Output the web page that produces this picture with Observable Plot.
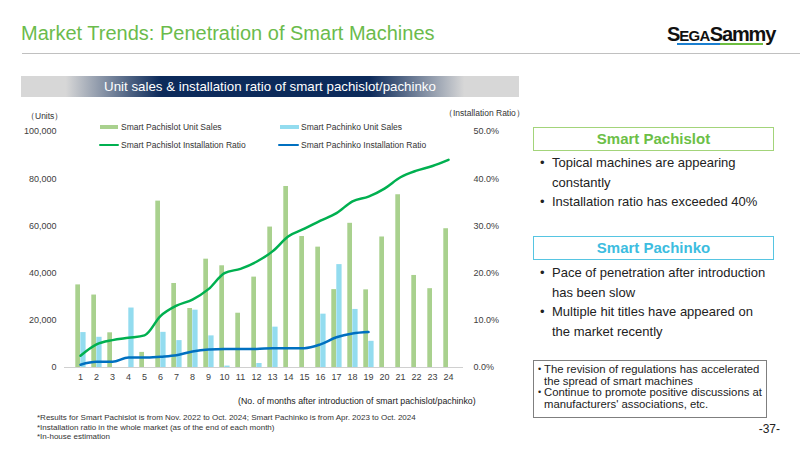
<!DOCTYPE html>
<html>
<head>
<meta charset="utf-8">
<script src="https://cdn.jsdelivr.net/npm/d3@7"></script>
<script src="https://cdn.jsdelivr.net/npm/@observablehq/plot@0.6"></script>
<style>
  html, body { margin: 0; padding: 0; background: #fff; }
  body { width: 800px; height: 450px; position: relative; overflow: hidden;
         font-family: "Liberation Sans", Arial, sans-serif; color: #222; }
  .abs { position: absolute; white-space: nowrap; }
  #title { left: 21px; top: 21px; font-size: 20px; color: #6bbb4c; line-height: 24px; }
  #rule { left: 22px; top: 53px; width: 778px; height: 0; border-top: 1.5px solid #c0c0c0; }
  #logo { left: 667px; top: 24px; font-size: 20px; font-weight: 900; color: #111; letter-spacing: -1.1px; line-height: 20px; }
  #logo .sm { font-size: 15px; letter-spacing: -0.7px; }
  .logobar { position: absolute; top: 43px; height: 2px; }
  #banner { left: 21px; top: 76px; width: 498px; height: 21px; color: #fff; font-size: 13.3px; line-height: 21px; text-align: center;
            background: linear-gradient(to right, #d7d7d7 0%, #d7d7d7 9%, #0c2a5a 28%, #0c2a5a 70%, #d7d7d7 89%, #d7d7d7 100%); }
  #chart { left: 0; top: 105px; }
  .unit { font-size: 8.5px; color: #333; }
  .leg { font-size: 8.5px; color: #333; line-height: 10px; }
  .sw { position: absolute; }
  .head { position: absolute; left: 533px; width: 241px; height: 24px; line-height: 21px; text-align: center;
          font-weight: bold; font-size: 15px; box-sizing: border-box; }
  .bul { position: absolute; left: 540px; font-size: 13px; line-height: 19.5px; color: #222; }
  .bul .it { position: relative; padding-left: 12px; white-space: nowrap; }
  .bul .it::before { content: "\2022"; position: absolute; left: 0; top: 0; }
  #note { left: 533px; top: 360px; width: 234px; height: 58px; border: 1px solid #7f7f7f; box-sizing: border-box;
          font-size: 11.3px; line-height: 11.7px; color: #222; padding: 3px 0 0 4px; }
  #note .it { position: relative; padding-left: 6px; white-space: nowrap; }
  #note .it::before { content: "\2022"; position: absolute; left: 0; top: 0; font-size: 9px; }
  .foot { font-size: 8px; color: #333; line-height: 10px; }
</style>
</head>
<body>
<div id="title" class="abs">Market Trends: Penetration of Smart Machines</div>
<div id="rule" class="abs"></div>
<div id="logo" class="abs">S<span class="sm">EGA</span>Sammy</div>
<div class="logobar" style="left:677px;width:43px;background:#1b7fd0;"></div>
<div class="logobar" style="left:720px;width:43px;background:#6cbd3f;"></div>
<div id="banner" class="abs">Unit sales &amp; installation ratio of smart pachislot/pachinko</div>

<div id="chart" class="abs"></div>

<div class="abs unit" style="left:26px;top:111px;">（Units）</div>
<div class="abs unit" style="left:444px;top:108px;">（Installation Ratio）</div>

<div id="legend"></div>

<div class="head" style="top:127px;border:1.5px solid #a3d47a;color:#6cbf47;">Smart Pachislot</div>
<div class="bul" style="top:153px;">
  <div class="it">Topical machines are appearing<br>constantly</div>
  <div class="it">Installation ratio has exceeded 40%</div>
</div>
<div class="head" style="top:236px;border:1.5px solid #56c5e2;color:#3dbde0;">Smart Pachinko</div>
<div class="bul" style="top:263px;">
  <div class="it">Pace of penetration after introduction<br>has been slow</div>
  <div class="it">Multiple hit titles have appeared on<br>the market recently</div>
</div>

<div id="note" class="abs">
  <div class="it">The revision of regulations has accelerated<br>the spread of smart machines</div>
  <div class="it">Continue to promote positive discussions at<br>manufacturers' associations, etc.</div>
</div>
<div class="abs" style="right:20px;top:423px;font-size:12px;line-height:12px;color:#222;">-37-</div>

<div class="abs" style="left:238px;top:396px;font-size:8.8px;line-height:10px;color:#222;">(No. of months after introduction of smart pachislot/pachinko)</div>
<div class="abs foot" style="left:37px;top:413px;">*Results for Smart Pachislot is from Nov. 2022 to Oct. 2024; Smart Pachinko is from Apr. 2023 to Oct. 2024</div>
<div class="abs foot" style="left:37px;top:422.5px;">*Installation ratio in the whole market (as of the end of each month)</div>
<div class="abs foot" style="left:37px;top:432px;">*In-house estimation</div>

<script>
// Months after introduction (x axis categories)
const months = [1, 2, 3, 4, 5, 6, 7, 8, 9, 10, 11, 12, 13, 14, 15, 16, 17, 18, 19, 20, 21, 22, 23, 24];

// Monthly unit sales (units); null = no sales that month
const pachislotSales = [35000, 30700, 14700, null, 6400, 70500, 35600, 25000, 45900, 43100, 23000, 38300,
                        59500, 76700, 55500, 51000, 33000, 61100, 32900, 55300, 73200, 39000, 33400, 58800];
const pachinkoSales = [14800, 12800, null, 25200, null, 14900, 11400, 24300, 13400, 600, null, 1700,
                       17100, null, null, 22600, 43600, 24600, 11100];

// Installation ratio in the whole market (%)
const pachislotRatio = [2.5, 4.9, 5.8, 6.3, 6.8, 10.9, 13.1, 14.4, 16.6, 20.0, 20.9, 22.4,
                        24.6, 27.8, 29.4, 31.1, 32.7, 35.2, 36.2, 37.9, 40.3, 41.7, 42.7, 44.0];
const pachinkoRatio = [0.6, 1.2, 1.2, 2.1, 2.1, 2.3, 2.6, 3.4, 3.8, 3.9, 3.9, 3.9,
                       4.1, 4.1, 4.1, 4.9, 6.4, 7.2, 7.5];

// Axis ticks
const unitTicks = [0, 20000, 40000, 60000, 80000, 100000];
const ratioTicks = [0, 10, 20, 30, 40, 50];

// Series names and colours
const seriesNames = ["Smart Pachislot Unit Sales", "Smart Pachinko Unit Sales",
                     "Smart Pachislot Installation Ratio", "Smart Pachinko Installation Ratio"];
const seriesColors = ["#a9d18e", "#93dcef", "#00b050", "#0070c0"];

// The right axis shares the unit scale: 50% sits level with 100,000 units
const UNITS_PER_PCT = 100000 / 50;

const slotBars = months.map((m, i) => ({month: m, units: pachislotSales[i]})).filter(d => d.units != null);
const pachiBars = pachinkoSales.map((v, i) => ({month: months[i], units: v})).filter(d => d.units != null);
const slotLine = pachislotRatio.map((v, i) => ({month: months[i], pct: v}));
const pachiLine = pachinkoRatio.map((v, i) => ({month: months[i], pct: v}));

const chart = Plot.plot({
  width: 520,
  height: 280,
  marginLeft: 64,
  marginRight: 57,
  marginTop: 26,
  marginBottom: 18,
  style: {fontFamily: "Liberation Sans, Arial, sans-serif", fontSize: "9px", color: "#404040", background: "transparent", overflow: "visible"},
  x: {type: "band", domain: months, padding: 0, label: null},
  y: {domain: [0, 100000], label: null},
  marks: [
    Plot.ruleY([0], {stroke: "#d0d0d0", strokeWidth: 1}),
    Plot.barY(slotBars, {x: "month", y: "units", fill: seriesColors[0], insetLeft: 3.3, insetRight: 8.0}),
    Plot.barY(pachiBars, {x: "month", y: "units", fill: seriesColors[1], insetLeft: 8.3, insetRight: 2.4}),
    Plot.line(slotLine, {x: "month", y: d => d.pct * UNITS_PER_PCT, stroke: seriesColors[2], strokeWidth: 2.5, curve: "monotone-x"}),
    Plot.line(pachiLine, {x: "month", y: d => d.pct * UNITS_PER_PCT, stroke: seriesColors[3], strokeWidth: 2.5, curve: "monotone-x"}),
    Plot.axisX({tickSize: 0, tickPadding: 6, label: null}),
    Plot.axisY({anchor: "left", ticks: unitTicks, tickFormat: d3.format(","), tickSize: 0, tickPadding: 8, label: null}),
    Plot.axisY({anchor: "right", ticks: ratioTicks.map(t => t * UNITS_PER_PCT),
                tickFormat: d => (d / UNITS_PER_PCT).toFixed(1) + "%", tickSize: 0, tickPadding: 10, label: null})
  ]
});
document.getElementById("chart").appendChild(chart);

// Legend: two rows, bars first, lines second
const legendPos = [
  {x: 100, y: 127, w: 18, h: 4.5, tx: 121},
  {x: 280, y: 127, w: 19, h: 4.5, tx: 301},
  {x: 99,  y: 145, w: 20, h: 2.5, tx: 121},
  {x: 278, y: 145, w: 21, h: 2.5, tx: 301}
];
const legend = document.getElementById("legend");
seriesNames.forEach((name, i) => {
  const p = legendPos[i];
  const sw = document.createElement("div");
  sw.className = "sw";
  Object.assign(sw.style, {left: p.x + "px", top: (p.y - p.h / 2) + "px", width: p.w + "px", height: p.h + "px",
                           background: seriesColors[i], borderRadius: i >= 2 ? "1px" : "0"});
  legend.appendChild(sw);
  const t = document.createElement("div");
  t.className = "abs leg";
  Object.assign(t.style, {left: p.tx + "px", top: (p.y - 5) + "px"});
  t.textContent = name;
  legend.appendChild(t);
});
</script>
</body>
</html>
